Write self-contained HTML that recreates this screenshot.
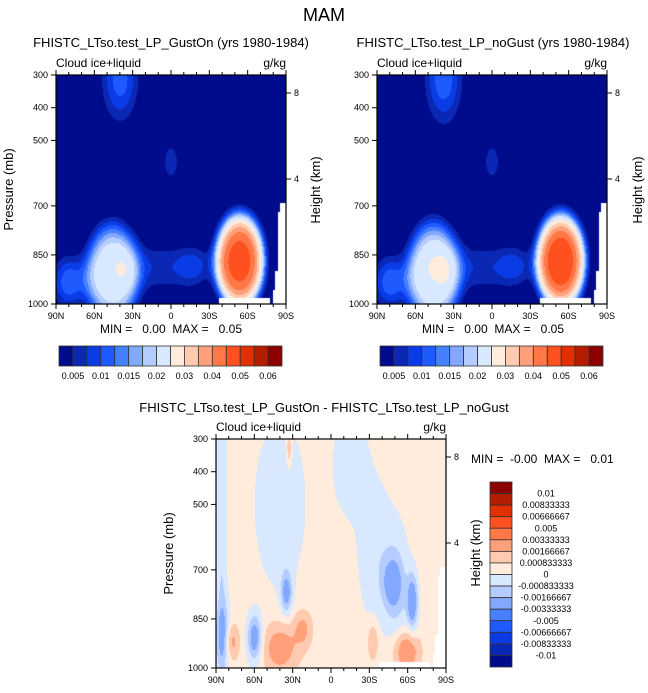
<!DOCTYPE html>
<html><head><meta charset="utf-8">
<style>
body{margin:0;background:#fff;width:648px;height:693px;overflow:hidden;position:relative;font-family:"Liberation Sans",Arial,sans-serif}
canvas{position:absolute}
svg{position:absolute;left:0;top:0}
</style></head>
<body>
<canvas id="c1" style="left:56px;top:75px" width="230" height="229"></canvas>
<canvas id="c2" style="left:377px;top:75px" width="230" height="229"></canvas>
<canvas id="c3" style="left:216px;top:439px" width="230" height="229"></canvas>
<svg id="s" width="648" height="693"></svg>
<script>
const absLevels=[0.005,0.0075,0.01,0.0125,0.015,0.0175,0.02,0.025,0.03,0.035,0.04,0.045,0.05,0.055,0.06];
const absLabels=["0.005","0.01","0.015","0.02","0.03","0.04","0.05","0.06"];
const diffLevels=[-0.01,-0.00833333,-0.00666667,-0.005,-0.00333333,-0.00166667,-0.000833333,0,0.000833333,0.00166667,0.00333333,0.005,0.00666667,0.00833333,0.01];
const diffLabels=["-0.01","-0.00833333","-0.00666667","-0.005","-0.00333333","-0.00166667","-0.000833333","0","0.000833333","0.00166667","0.00333333","0.005","0.00666667","0.00833333","0.01"];
const colors=["#000c8c","#0a28b4","#0a3ce6","#1e5aff","#4680ff","#82a8ff","#b4ccff","#d8e8ff","#ffecdc","#ffcab0","#ffa07a","#ff7846","#ff5020","#e03000","#b41e00","#8c0000"];
// blobs: [lat, pressure, sigmaLat, sigmaP, amplitude, shapePower]
const blobsGustOn=[[40,310,11,100,0.0115,2],[0,565,5,45,0.0075,2],[46,910,18,135,0.021,4],[80,935,10,60,0.012,2],[15,890,26,60,0.0072,2],[-18,885,10,45,0.0065,2],[-54,870,16,120,0.0465,4]];
const blobsNoGust=[[38,310,11,105,0.012,2],[0,565,5,45,0.0075,2],[46,910,18,140,0.022,4],[80,935,10,60,0.012,2],[15,890,26,60,0.0072,2],[-18,885,10,45,0.0065,2],[-54,870,16,120,0.048,4]];
const diffBase=0.0004;
const blobsDiff=[[86,600,3,500,-0.0012,2],[40,500,14,180,-0.0011,2],[-15,380,10,110,-0.001,2],[-35,650,10,160,-0.001,2],[-52,760,7,130,-0.0013,2],[35,770,3,45,-0.0025,2],[60,910,4,50,-0.003,2],[85,900,4,70,-0.002,2],[-48,740,5,50,-0.002,2],[-64,800,3,60,-0.003,2],[78,920,4,40,0.0017,2],[40,940,10,55,0.002,2],[22,880,5,40,0.0015,2],[-59,950,7,45,0.0025,2],[-33,920,3,40,0.0015,2],[33,330,1.5,40,0.0015,2]];

function field(blobs,base,lat,p){let v=base;for(const b of blobs){const dl=(lat-b[0])/b[2],dp=(p-b[1])/b[3];const r=Math.sqrt(dl*dl+dp*dp);v+=b[4]*Math.exp(-0.5*Math.pow(r,b[5]));}return v;}
function bin(levels,v){let i=0;while(i<levels.length&&v>=levels[i])i++;return i;}
function hex(c){return [parseInt(c.substr(1,2),16),parseInt(c.substr(3,2),16),parseInt(c.substr(5,2),16)];}
const rgb=colors.map(hex);
function render(id,blobs,base,levels){
 const cv=document.getElementById(id),ctx=cv.getContext('2d'),W=cv.width,H=cv.height;
 const im=ctx.createImageData(W,H);
 for(let y=0;y<H;y++)for(let x=0;x<W;x++){
  const lat=90-180*x/(W-1),p=300+700*y/(H-1);
  let c=rgb[bin(levels,field(blobs,base,lat,p))];
  if((lat<-86&&p>690)||(lat<-84&&p>720)||(lat<-82&&p>900)||(lat<-80&&p>960)||(lat<-38&&lat>-78&&p>982)) c=[255,255,255];
  const k=(y*W+x)*4;im.data[k]=c[0];im.data[k+1]=c[1];im.data[k+2]=c[2];im.data[k+3]=255;}
 ctx.putImageData(im,0,0);
}
render('c1',blobsGustOn,0,absLevels);
render('c2',blobsNoGust,0,absLevels);
render('c3',blobsDiff,diffBase,diffLevels);

const S=document.getElementById('s'),NS='http://www.w3.org/2000/svg';
function el(t,a,txt){const e=document.createElementNS(NS,t);for(const k in a)e.setAttribute(k,a[k]);if(txt!==undefined)e.textContent=txt;S.appendChild(e);return e;}
const latTicks=["90N","60N","30N","0","30S","60S","90S"];
const pTicks=[300,400,500,700,850,1000];
function axes(x0,y0,w,h,name,ptitle){
 let e=el('rect',{x:x0,y:y0,width:w,height:h,fill:'none',stroke:'#000','stroke-width':1.2});
 
 for(let i=0;i<=18;i++){const x=x0+w*i/18,L=i%3==0?5:3;
  el('line',{x1:x,y1:y0,x2:x,y2:y0-L,stroke:'#000'});el('line',{x1:x,y1:y0+h,x2:x,y2:y0+h+L,stroke:'#000'});}
 latTicks.forEach((t,i)=>{e=el('text',{x:x0+w*i/6,y:y0+h+15,'font-size':9,'text-anchor':'middle'},t);});
 pTicks.forEach(p=>{const y=y0+h*(p-300)/700;el('line',{x1:x0,y1:y,x2:x0-5,y2:y,stroke:'#000'});
  e=el('text',{x:x0-8,y:y+3,'font-size':9,'text-anchor':'end'},p);});
 [[8,18],[4,104]].forEach(([k,d])=>{const y=y0+d;el('line',{x1:x0+w,y1:y,x2:x0+w+5,y2:y,stroke:'#000'});el('text',{x:x0+w+8,y:y+3,'font-size':9},k);});
 e=el('text',{x:x0,y:y0-8,'font-size':12},'Cloud ice+liquid');
 e=el('text',{x:x0+w,y:y0-8,'font-size':12,'text-anchor':'end'},'g/kg');
 if(ptitle){e=el('text',{transform:`translate(${x0-43},${y0+h/2}) rotate(-90)`,'font-size':13,'text-anchor':'middle'},'Pressure (mb)');}
}
function hbar(x0,y0,w,h,name){const n=colors.length,bw=w/n;
 colors.forEach((c,i)=>{const e=el('rect',{x:x0+i*bw,y:y0,width:bw,height:h,fill:c,stroke:'#333','stroke-width':0.8});});
 absLabels.forEach((t,i)=>{const e=el('text',{x:x0+bw*(1+2*i),y:y0+h+13,'font-size':9,'text-anchor':'middle'},t);});}
let e=el('text',{x:324,y:21,'font-size':18,'text-anchor':'middle'},'MAM');
e=el('text',{x:171,y:47,'font-size':13,'text-anchor':'middle'},'FHISTC_LTso.test_LP_GustOn (yrs 1980-1984)');
e=el('text',{x:493,y:47,'font-size':13,'text-anchor':'middle'},'FHISTC_LTso.test_LP_noGust (yrs 1980-1984)');
axes(56,75,230,229,'gust-on',true);axes(377,75,230,229,'no-gust',false);axes(216,439,230,229,'difference',true);
e=el('text',{transform:'translate(320,190) rotate(-90)','font-size':13,'text-anchor':'middle'},'Height (km)');
e=el('text',{transform:'translate(642,190) rotate(-90)','font-size':13,'text-anchor':'middle'},'Height (km)');
e=el('text',{transform:'translate(480,553) rotate(-90)','font-size':13,'text-anchor':'middle'},'Height (km)');
e=el('text',{x:171,y:333,'font-size':12,'text-anchor':'middle',style:'white-space:pre'},'MIN =   0.00  MAX =   0.05');
e=el('text',{x:493,y:333,'font-size':12,'text-anchor':'middle',style:'white-space:pre'},'MIN =   0.00  MAX =   0.05');
e=el('text',{x:471,y:463,'font-size':12,style:'white-space:pre'},'MIN =  -0.00  MAX =   0.01');
hbar(59,346,223,20,'gust-on-colorbar');hbar(380,346,223,20,'no-gust-colorbar');
e=el('text',{x:324,y:412,'font-size':13,'text-anchor':'middle'},'FHISTC_LTso.test_LP_GustOn - FHISTC_LTso.test_LP_noGust');
(function(){const x0=490,y0=482,w=22,h=185,n=colors.length,bh=h/n;
 colors.slice().reverse().forEach((c,i)=>{const e=el('rect',{x:x0,y:y0+i*bh,width:w,height:bh,fill:c,stroke:'#333','stroke-width':0.8});});
 diffLabels.slice().reverse().forEach((t,i)=>{const e=el('text',{x:546,y:y0+bh*(i+1)+3,'font-size':9,'text-anchor':'middle'},t);});})();
</script>
</body></html>
